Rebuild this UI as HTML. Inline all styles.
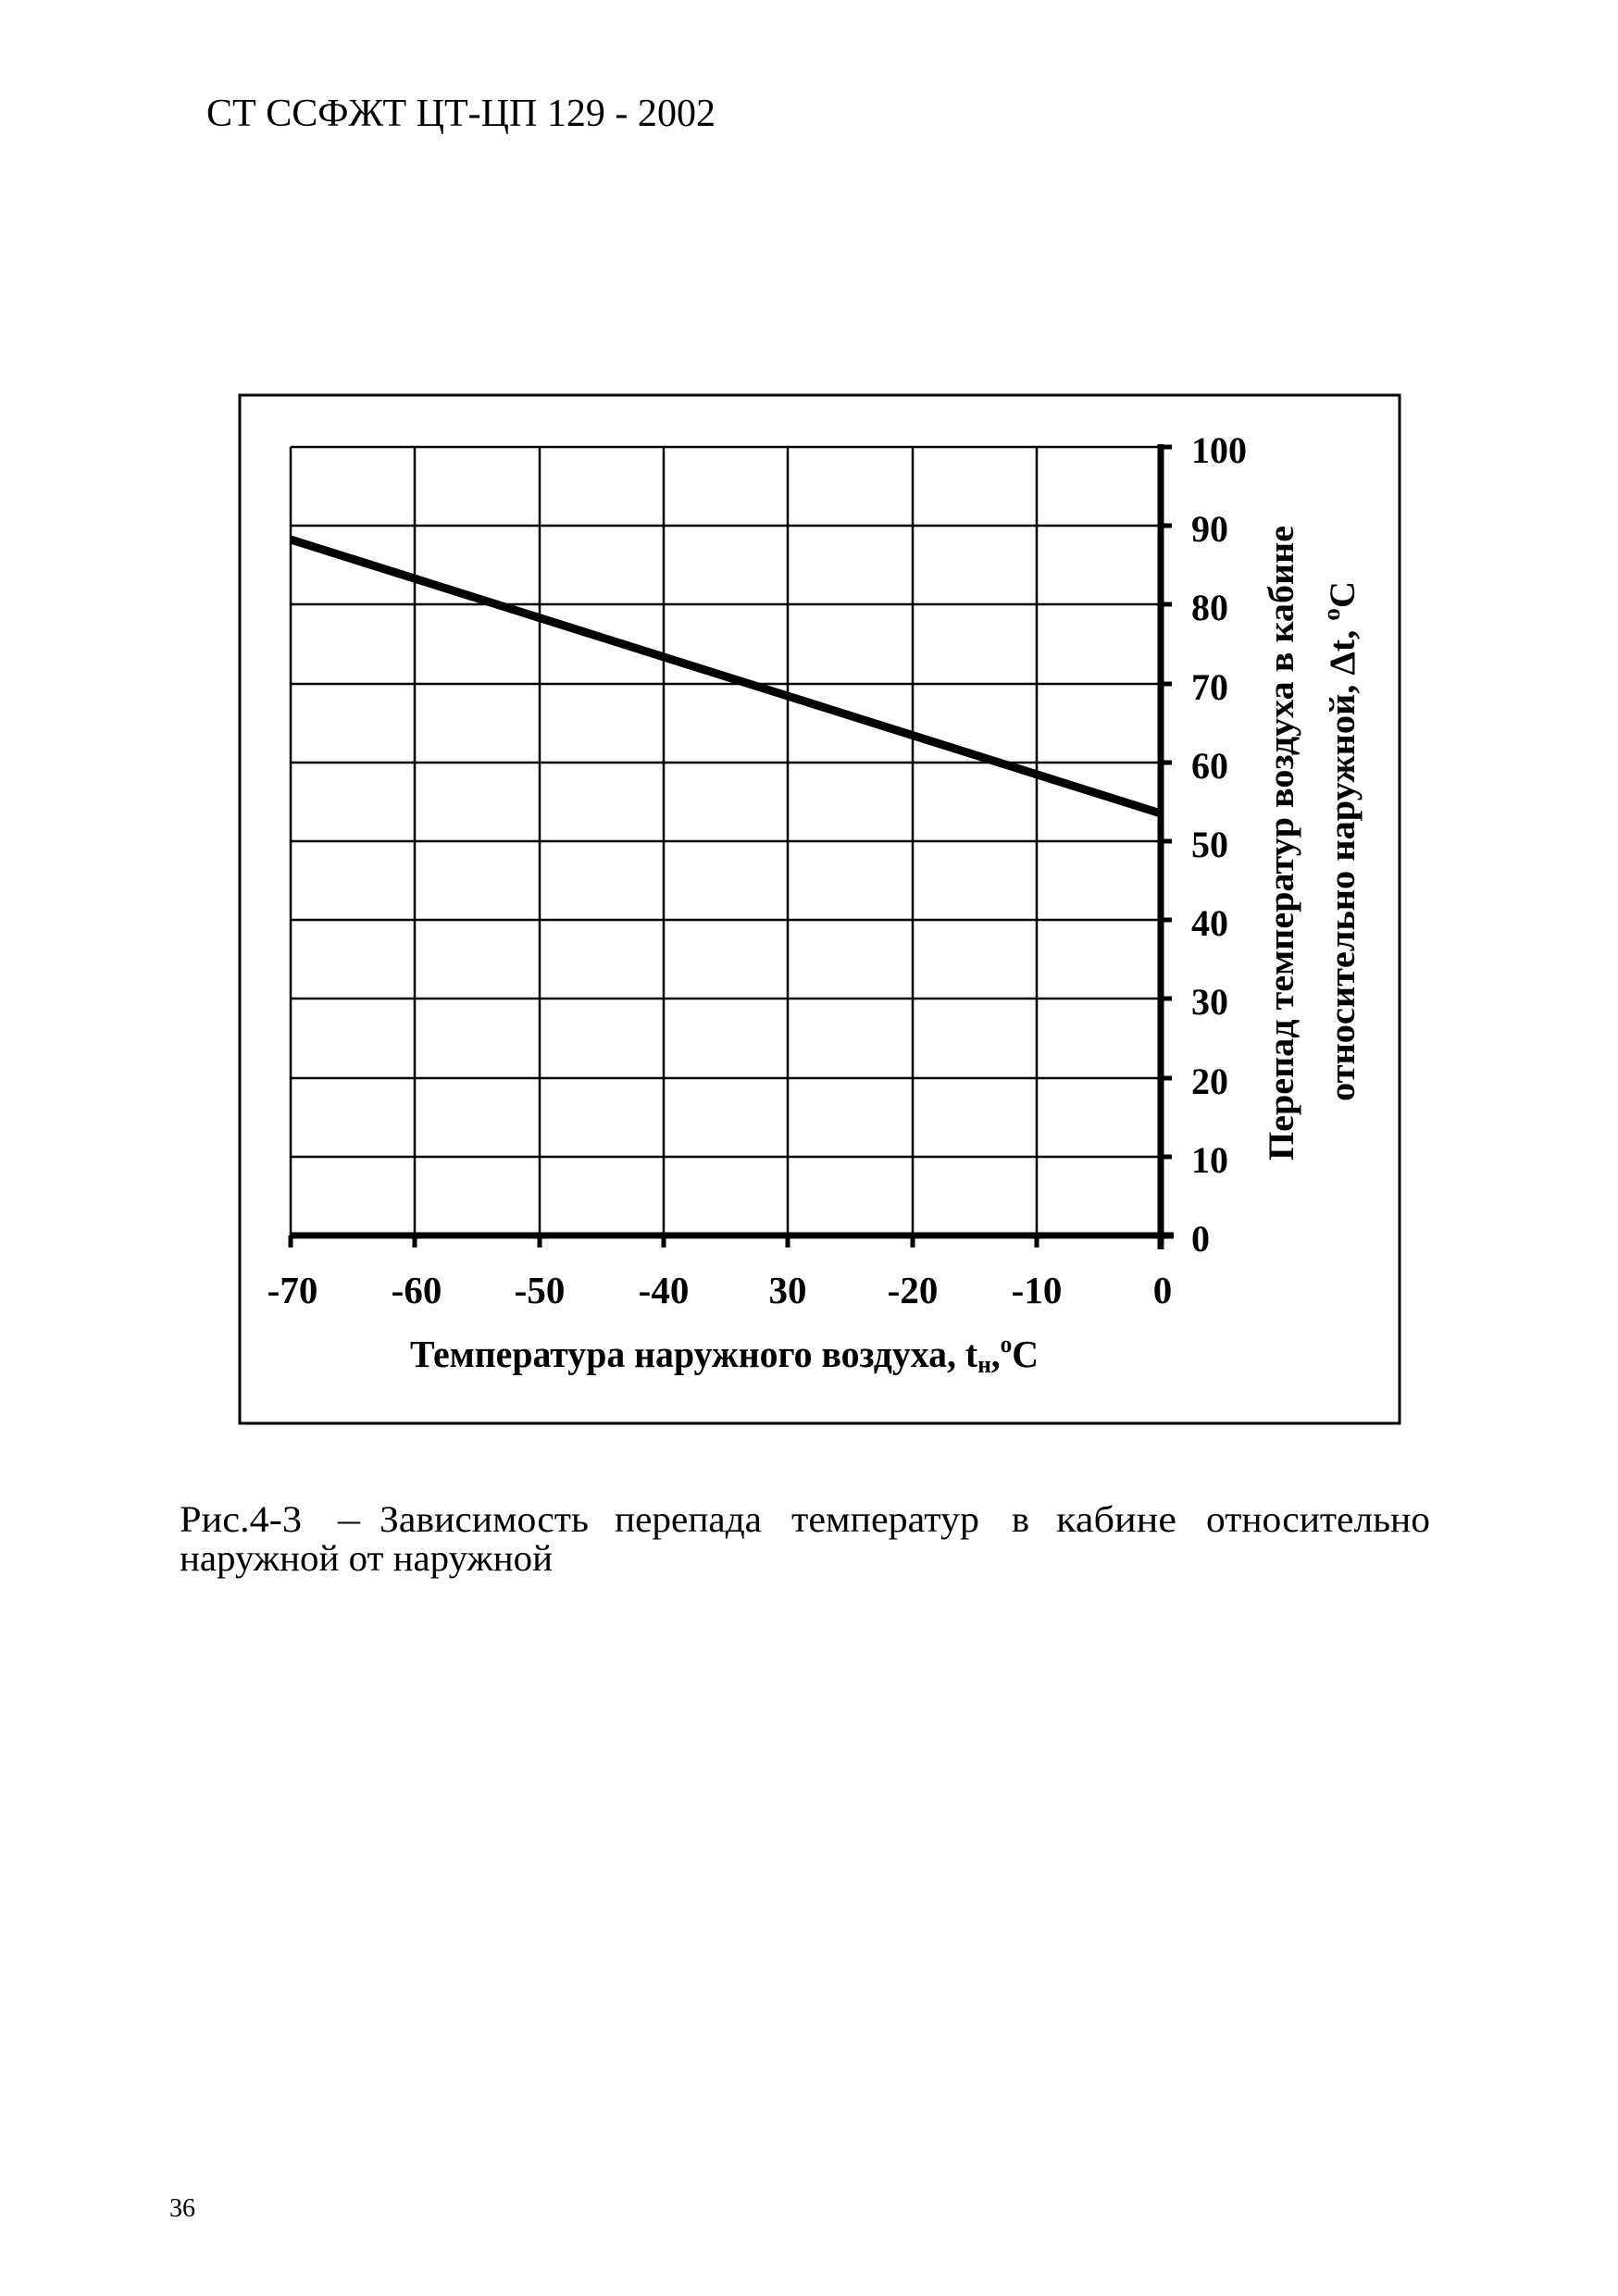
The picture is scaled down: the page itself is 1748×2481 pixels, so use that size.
<!DOCTYPE html>
<html><head><meta charset="utf-8"><style>html,body{margin:0;padding:0;background:#fff}svg{display:block}</style></head>
<body>
<svg width="1748" height="2481" viewBox="0 0 1748 2481" xmlns="http://www.w3.org/2000/svg" font-family="'Liberation Serif','Noto Serif CJK SC',serif">
<rect width="1748" height="2481" fill="#fff"/>
<text x="223" y="136" font-size="42" textLength="550" lengthAdjust="spacingAndGlyphs">СТ ССФЖТ ЦТ-ЦП 129 - 2002</text>
<rect x="259" y="427" width="1253" height="1111" fill="none" stroke="#000" stroke-width="3"/>
<g stroke="#000" stroke-width="2.5">
<line x1="314" y1="483" x2="314" y2="1335"/>
<line x1="448" y1="483" x2="448" y2="1335"/>
<line x1="583" y1="483" x2="583" y2="1335"/>
<line x1="717" y1="483" x2="717" y2="1335"/>
<line x1="851" y1="483" x2="851" y2="1335"/>
<line x1="986" y1="483" x2="986" y2="1335"/>
<line x1="1120" y1="483" x2="1120" y2="1335"/>
<line x1="314" y1="483" x2="1254" y2="483"/>
<line x1="314" y1="568" x2="1254" y2="568"/>
<line x1="314" y1="653" x2="1254" y2="653"/>
<line x1="314" y1="739" x2="1254" y2="739"/>
<line x1="314" y1="824" x2="1254" y2="824"/>
<line x1="314" y1="909" x2="1254" y2="909"/>
<line x1="314" y1="994" x2="1254" y2="994"/>
<line x1="314" y1="1079" x2="1254" y2="1079"/>
<line x1="314" y1="1165" x2="1254" y2="1165"/>
<line x1="314" y1="1250" x2="1254" y2="1250"/>
</g>
<g stroke="#000" stroke-width="7">
<line x1="314" y1="1335" x2="1268" y2="1335"/>
<line x1="1254" y1="480" x2="1254" y2="1350"/>
</g>
<g stroke="#000" stroke-width="5">
<line x1="1254" y1="483" x2="1266" y2="483"/><line x1="1254" y1="568" x2="1266" y2="568"/><line x1="1254" y1="653" x2="1266" y2="653"/><line x1="1254" y1="739" x2="1266" y2="739"/><line x1="1254" y1="824" x2="1266" y2="824"/><line x1="1254" y1="909" x2="1266" y2="909"/><line x1="1254" y1="994" x2="1266" y2="994"/><line x1="1254" y1="1079" x2="1266" y2="1079"/><line x1="1254" y1="1165" x2="1266" y2="1165"/><line x1="1254" y1="1250" x2="1266" y2="1250"/>
<line x1="314" y1="1335" x2="314" y2="1348"/><line x1="448" y1="1335" x2="448" y2="1348"/><line x1="583" y1="1335" x2="583" y2="1348"/><line x1="717" y1="1335" x2="717" y2="1348"/><line x1="851" y1="1335" x2="851" y2="1348"/><line x1="986" y1="1335" x2="986" y2="1348"/><line x1="1120" y1="1335" x2="1120" y2="1348"/>
</g>
<line x1="314" y1="583" x2="1254" y2="879" stroke="#000" stroke-width="9"/>
<g font-size="40" font-weight="bold">
<text x="1287" y="500">100</text><text x="1287" y="585">90</text><text x="1287" y="670">80</text><text x="1287" y="756">70</text><text x="1287" y="841">60</text><text x="1287" y="926">50</text><text x="1287" y="1011">40</text><text x="1287" y="1096">30</text><text x="1287" y="1182">20</text><text x="1287" y="1267">10</text><text x="1287" y="1352">0</text>
</g>
<g font-size="41" font-weight="bold" text-anchor="middle">
<text x="316" y="1408">-70</text><text x="450" y="1408">-60</text><text x="583" y="1408">-50</text><text x="717" y="1408">-40</text><text x="851" y="1408">30</text><text x="986" y="1408">-20</text><text x="1120" y="1408">-10</text><text x="1256" y="1408">0</text>
</g>
<text x="443" y="1477" font-size="41" font-weight="bold" textLength="679" lengthAdjust="spacingAndGlyphs">Температура наружного воздуха, t<tspan font-size="26" dy="6">н</tspan><tspan dy="-6">,</tspan><tspan font-size="26" dy="-16">o</tspan><tspan dy="16">C</tspan></text>
<text transform="translate(1397,1254) rotate(-90)" font-size="39" font-weight="bold" textLength="686" lengthAdjust="spacingAndGlyphs">Перепад температур воздуха в кабине</text>
<text transform="translate(1463,1190) rotate(-90)" font-size="39" font-weight="bold" textLength="562" lengthAdjust="spacingAndGlyphs">относительно наружной, Δt, <tspan font-size="26" dy="-16">o</tspan><tspan dy="16">C</tspan></text>
<g font-size="40">
<text x="194" y="1655" textLength="132" lengthAdjust="spacingAndGlyphs">Рис.4-3</text>
<text x="365" y="1655" textLength="24" lengthAdjust="spacingAndGlyphs">–</text>
<text x="410" y="1655" textLength="226" lengthAdjust="spacingAndGlyphs">Зависимость</text>
<text x="664" y="1655" textLength="159" lengthAdjust="spacingAndGlyphs">перепада</text>
<text x="855" y="1655" textLength="203" lengthAdjust="spacingAndGlyphs">температур</text>
<text x="1093" y="1655" textLength="19" lengthAdjust="spacingAndGlyphs">в</text>
<text x="1141" y="1655" textLength="130" lengthAdjust="spacingAndGlyphs">кабине</text>
<text x="1303" y="1655" textLength="242" lengthAdjust="spacingAndGlyphs">относительно</text>
<text x="194" y="1697" textLength="403" lengthAdjust="spacingAndGlyphs">наружной от наружной</text>
</g>
<text x="183" y="2395" font-size="28">36</text>
</svg>
</body></html>
